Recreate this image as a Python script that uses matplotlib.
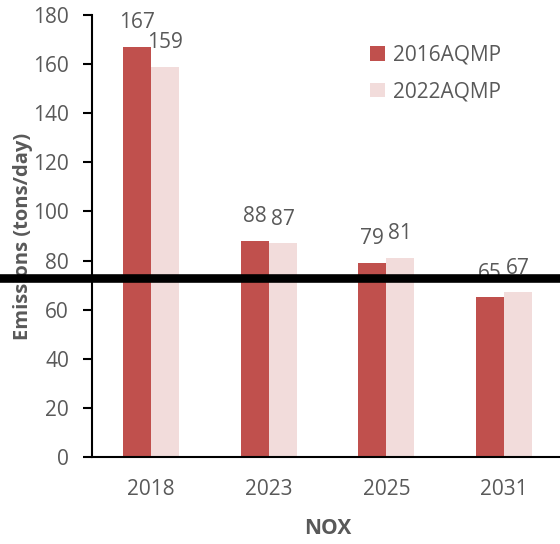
import numpy as np
import matplotlib
matplotlib.use("Agg")
import matplotlib.pyplot as plt

plt.rcParams['font.family'] = ['Open Sans', 'DejaVu Sans']

# chart data
years = ["2018", "2023", "2025", "2031"]
aqmp_2016 = [167, 88, 79, 65]
aqmp_2022 = [159, 87, 81, 67]
threshold = 73

red = "#C0504D"
pink = "#F2DCDB"
grey = "#595959"

fig = plt.figure(figsize=(5.6, 5.44), dpi=100)
ax = fig.add_axes([92 / 560, 87 / 544, 471 / 560, 442 / 544])

x = np.arange(len(years))
w = 0.238
b1 = ax.bar(x - w / 2, aqmp_2016, w, color=red, label="2016AQMP")
b2 = ax.bar(x + w / 2, aqmp_2022, w, color=pink, label="2022AQMP")

# data labels above each bar
for bars, vals in [(b1, aqmp_2016), (b2, aqmp_2022)]:
    for rect, v in zip(bars, vals):
        ax.annotate(str(v), (rect.get_x() + rect.get_width() / 2, v),
                    xytext=(0, 13.5), textcoords="offset points",
                    ha="center", va="baseline", fontsize=15, color=grey)

# thick black reference line across the whole figure
ax.axhline(threshold, xmin=-0.2, xmax=1.0, color="black", lw=6.2, clip_on=False, zorder=5)

ax.set_xlim(-0.5, 3.5)
ax.set_ylim(0, 180)
ax.set_yticks(range(0, 181, 20))
ax.set_xticks(x)
ax.set_xticklabels(years)

ax.spines['top'].set_visible(False)
ax.spines['right'].set_visible(False)
ax.spines['left'].set_linewidth(1.5)
ax.spines['bottom'].set_linewidth(1.5)
ax.tick_params(axis='y', length=6.5, width=1.5, pad=10, labelsize=15, labelcolor=grey)
ax.tick_params(axis='x', length=0, pad=16, labelsize=15, labelcolor=grey)

ax.set_ylabel("Emissions (tons/day)", fontsize=14.5, fontweight='bold', color=grey, labelpad=0)
ax.set_xlabel("NOX", fontsize=15, fontweight='bold', color=grey, labelpad=13)

ax.legend(loc='upper left', bbox_to_anchor=(0.551, 0.975), frameon=False, fontsize=15,
          labelcolor=grey, handlelength=0.7, handleheight=0.7, handletextpad=0.4,
          labelspacing=0.75)

plt.savefig("out.png", dpi=100)
